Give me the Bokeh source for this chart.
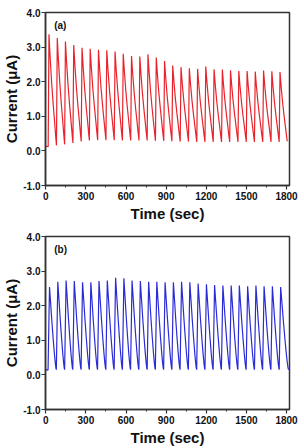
import numpy as np
from bokeh.plotting import figure
from bokeh.layouts import column
from bokeh.models import Label, FixedTicker, NumeralTickFormatter, Range1d
from bokeh.embed import file_html
from bokeh.resources import INLINE

# ---- axes ----
x_ticks = [0, 300, 600, 900, 1200, 1500, 1800]
x_minor = [150, 450, 750, 1050, 1350, 1650]
y_ticks = [-1, 0, 1, 2, 3, 4]

# ---- panel (a): current spikes (uA) vs time (s) ----
peak_time_a = [24, 86, 147, 209, 271, 332, 394, 456, 518, 579, 641, 703, 764, 826, 888,
               949, 1011, 1073, 1135, 1196, 1258, 1320, 1381, 1443, 1505, 1566, 1628, 1690, 1751]
peak_a = [3.37, 3.26, 3.16, 3.06, 2.98, 2.95, 2.92, 2.91, 2.87, 2.81, 2.74, 2.73, 2.79, 2.70, 2.60,
          2.47, 2.42, 2.39, 2.37, 2.44, 2.36, 2.35, 2.33, 2.31, 2.31, 2.29, 2.32, 2.30, 2.28]
# trough before each rise, last entry is the value where the trace ends
trough_a = [0.12, 0.16, 0.19, 0.23, 0.27, 0.30, 0.31, 0.31, 0.31, 0.30, 0.30, 0.30, 0.30, 0.29, 0.29,
            0.28, 0.27, 0.27, 0.26, 0.26, 0.26, 0.26, 0.26, 0.26, 0.26, 0.26, 0.26, 0.26, 0.26, 0.28]
start_a = (0, 0.14)
end_time_a = 1805
rise_a = 6
# shape of one decay: fraction of the interval, fraction of the amplitude left
decay_t_a = [0, 0.15, 0.35, 0.55, 0.75, 0.9, 1.0]
decay_v_a = [1, 0.80, 0.57, 0.38, 0.21, 0.08, 0.0]

# ---- panel (b) ----
peak_time_b = [28, 90, 152, 213, 275, 337, 398, 460, 522, 584, 645, 707, 769, 830, 892,
               954, 1015, 1077, 1139, 1201, 1262, 1324, 1386, 1447, 1509, 1571, 1632, 1694, 1756]
peak_b = [2.54, 2.69, 2.73, 2.71, 2.68, 2.68, 2.71, 2.73, 2.81, 2.79, 2.73, 2.71, 2.69, 2.69, 2.68,
          2.68, 2.69, 2.68, 2.64, 2.62, 2.60, 2.58, 2.58, 2.58, 2.56, 2.58, 2.56, 2.56, 2.54]
trough_b = [0.14, 0.15, 0.15, 0.15, 0.15, 0.15, 0.15, 0.15, 0.15, 0.15, 0.15, 0.15, 0.15, 0.15, 0.15,
            0.15, 0.15, 0.15, 0.15, 0.15, 0.15, 0.15, 0.15, 0.15, 0.15, 0.15, 0.15, 0.15, 0.15, 0.15]
start_b = (0, 0.15)
end_time_b = 1815
rise_b = 11
decay_t_b = [0, 0.15, 0.35, 0.55, 0.72, 0.85, 0.94, 1.0]
decay_v_b = [1, 0.82, 0.58, 0.36, 0.19, 0.08, 0.02, 0.0]


def trace(start, peak_t, peak_v, trough_v, end_t, rise, prof_t, prof_v):
    xs, ys = [start[0]], [start[1]]
    n = len(peak_t)
    for k in range(n):
        xs.append(peak_t[k] - rise)
        ys.append(trough_v[k])
        xs.append(peak_t[k])
        ys.append(peak_v[k])
        t_end = peak_t[k + 1] - rise if k + 1 < n else end_t
        lo = trough_v[k + 1]
        for f, r in zip(prof_t[1:], prof_v[1:]):
            xs.append(peak_t[k] + f * (t_end - peak_t[k]))
            ys.append(lo + r * (peak_v[k] - lo))
    return xs, ys


FONT = "Liberation Sans"


def panel(xs, ys, color, tag):
    p = figure(width=304, height=224, output_backend="svg", toolbar_location=None,
               x_range=Range1d(-2, 1822), y_range=Range1d(-1, 4),
               min_border_left=40, min_border_right=15, min_border_top=12, min_border_bottom=38)
    p.line(xs, ys, line_color=color, line_width=1.2)
    p.xgrid.visible = False
    p.ygrid.visible = False
    p.outline_line_color = "#333333"
    p.outline_line_width = 1.5
    p.background_fill_color = "white"
    p.border_fill_color = "white"

    p.xaxis.ticker = FixedTicker(ticks=x_ticks, minor_ticks=x_minor)
    p.yaxis.ticker = FixedTicker(ticks=y_ticks, minor_ticks=[])
    p.yaxis.formatter = NumeralTickFormatter(format="0.0")
    for ax in (p.xaxis, p.yaxis):
        ax.axis_line_color = "#333333"
        ax.axis_line_width = 1.5
        ax.major_tick_line_color = "#333333"
        ax.major_tick_line_width = 1.2
        ax.minor_tick_line_color = "#333333"
        ax.minor_tick_line_width = 1.0
        ax.major_tick_in = 0
        ax.major_tick_out = 4
        ax.minor_tick_in = 0
        ax.minor_tick_out = 2
        ax.major_label_text_font = FONT
        ax.major_label_text_font_style = "bold"
        ax.major_label_text_font_size = "10px"
        ax.major_label_text_color = "#111111"
        ax.axis_label_text_font = FONT
        ax.axis_label_text_font_style = "bold"
        ax.axis_label_text_font_size = "15px"
        ax.axis_label_text_color = "#111111"
    p.xaxis.major_label_standoff = 2
    p.xaxis.axis_label_standoff = 2
    p.yaxis.major_label_standoff = 1
    p.yaxis.axis_label_standoff = 0
    p.xaxis.axis_label = "Time (sec)"
    p.yaxis.axis_label = "Current (\u03bcA)"

    p.add_layout(Label(x=63, y=3.62, text=tag, text_font=FONT, text_font_style="bold",
                       text_font_size="10px", text_baseline="middle", text_color="#111111"))
    return p


xa, ya = trace(start_a, peak_time_a, peak_a, trough_a, end_time_a, rise_a, decay_t_a, decay_v_a)
xb, yb = trace(start_b, peak_time_b, peak_b, trough_b, end_time_b, rise_b, decay_t_b, decay_v_b)

pa = panel(xa, ya, "#e8232b", "(a)")
pb = panel(xb, yb, "#2b2bd6", "(b)")

layout = column(pa, pb, spacing=0)
open("out.html", "w").write(file_html(layout, INLINE))
